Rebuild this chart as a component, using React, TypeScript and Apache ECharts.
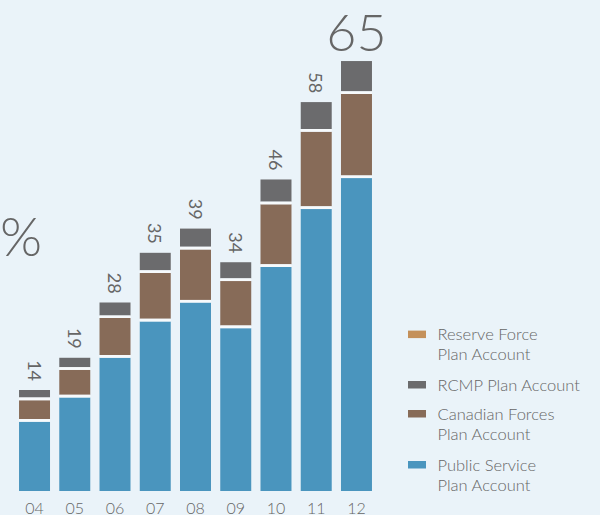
import React, { useEffect, useRef } from "react";
import * as echarts from "echarts";

// ---- data ----
const years = ["04", "05", "06", "07", "08", "09", "10", "11", "12"];
const publicService = [10.3, 13.9, 19.8, 25.2, 28.0, 24.2, 33.3, 41.9, 46.5];
const canadianForces = [3.2, 4.1, 5.9, 7.2, 7.9, 7.0, 9.3, 11.5, 12.5];
const rcmp = [1.5, 1.8, 2.3, 3.0, 3.1, 2.8, 3.7, 4.4, 4.9];
const totalLabels = ["14", "19", "28", "35", "39", "34", "46", "58", "65"];
const legendNames = [
  "Reserve Force\nPlan Account",
  "RCMP Plan Account",
  "Canadian Forces\nPlan Account",
  "Public Service\nPlan Account",
];

const BG = "#eaf3f9";
const TEXT = "#666666";
const COLORS = {
  reserve: "#c4905a",
  rcmp: "#6b6b6d",
  canadian: "#876b58",
  public: "#4a95be",
};
const GAP = 2.7;
const LIGHT = 300;

function buildSeries(
  name: string,
  values: number[],
  base: number[],
  color: string,
  isFirst: boolean,
  isTop: boolean
) {
  return {
    type: "custom",
    name,
    data: values.map((v, i) => [i, base[i], base[i] + v]),
    encode: { x: 0, y: [1, 2] },
    renderItem: (params: any, api: any) => {
      const i = api.value(0);
      const lo = api.value(1);
      const hi = api.value(2);
      const pLo = api.coord([i, lo]);
      const pHi = api.coord([i, hi]);
      const w = api.size([1, 0])[0] * 0.77;
      const x = pLo[0] - w / 2;
      const bottom = isFirst ? pLo[1] : pLo[1] - GAP;
      const children: any[] = [
        {
          type: "rect",
          shape: { x, y: pHi[1], width: w, height: bottom - pHi[1] },
          style: { fill: color },
        },
      ];
      if (!isFirst) {
        children.push({
          type: "rect",
          shape: { x, y: bottom, width: w, height: GAP },
          style: { fill: "#f7fafc" },
        });
      }
      if (isTop) {
        const last = params.dataIndex === values.length - 1;
        if (last) {
          children.push({
            type: "text",
            x: pHi[0],
            y: pHi[1] - 30.5,
            style: {
              text: totalLabels[params.dataIndex],
              fill: TEXT,
              fontFamily: "Lato",
              fontWeight: LIGHT,
              fontSize: 52,
              align: "center",
              verticalAlign: "middle",
            },
          });
        } else {
          children.push({
            type: "text",
            x: pHi[0],
            y: pHi[1] - 9,
            rotation: -Math.PI / 2,
            style: {
              text: totalLabels[params.dataIndex],
              fill: TEXT,
              fontFamily: "'Liberation Sans Narrow', Lato",
              fontSize: 18,
              align: "right",
              verticalAlign: "middle",
            },
          });
        }
      }
      return { type: "group", children };
    },
  };
}

export default function App() {
  const ref = useRef<HTMLDivElement>(null);
  useEffect(() => {
    if (!ref.current) return;
    const chart = echarts.init(ref.current, undefined, { renderer: "svg" });
    const base0 = publicService.map(() => 0);
    const base1 = publicService.slice();
    const base2 = publicService.map((v, i) => v + canadianForces[i]);

    const legendColors = [COLORS.reserve, COLORS.rcmp, COLORS.canadian, COLORS.public];
    const legendTops = [324.3, 374.7, 403.7, 454.7];
    const legendGraphics: any[] = [];
    legendNames.forEach((n, k) => {
      legendGraphics.push({
        type: "rect",
        shape: { x: 408, y: legendTops[k] + 6.3, width: 18, height: 7.5 },
        style: { fill: legendColors[k] },
      });
      legendGraphics.push({
        type: "text",
        x: 437.5,
        y: legendTops[k],
        style: {
          text: n,
          fill: TEXT,
          fontFamily: "Lato",
          fontWeight: LIGHT,
          fontSize: 16.5,
          lineHeight: 20,
          align: "left",
          verticalAlign: "top",
        },
      });
    });

    chart.setOption({
      animation: false,
      backgroundColor: BG,
      grid: { left: 14.4, right: 223.4, top: 20, bottom: 22.5 },
      xAxis: {
        type: "category",
        data: years,
        axisLine: { show: false },
        axisTick: { show: false },
        axisLabel: {
          color: TEXT,
          fontFamily: "Lato",
          fontWeight: LIGHT,
          fontSize: 16,
          margin: 8,
        },
      },
      yAxis: { type: "value", min: 0, max: 70, show: false },
      series: [
        buildSeries("Public Service Plan Account", publicService, base0, COLORS.public, true, false),
        buildSeries("Canadian Forces Plan Account", canadianForces, base1, COLORS.canadian, false, false),
        buildSeries("RCMP Plan Account", rcmp, base2, COLORS.rcmp, false, true),
      ],
      graphic: [
        {
          type: "text",
          x: 0,
          y: 235,
          style: {
            text: "%",
            fill: TEXT,
            fontFamily: "Lato",
            fontWeight: LIGHT,
            fontSize: 54,
            align: "left",
            verticalAlign: "middle",
          },
        },
        ...legendGraphics,
      ],
    });
    return () => chart.dispose();
  }, []);
  return (
    <div
      ref={ref}
      style={{ position: "absolute", left: 0, top: 0, width: 600, height: 515, background: BG }}
    />
  );
}
